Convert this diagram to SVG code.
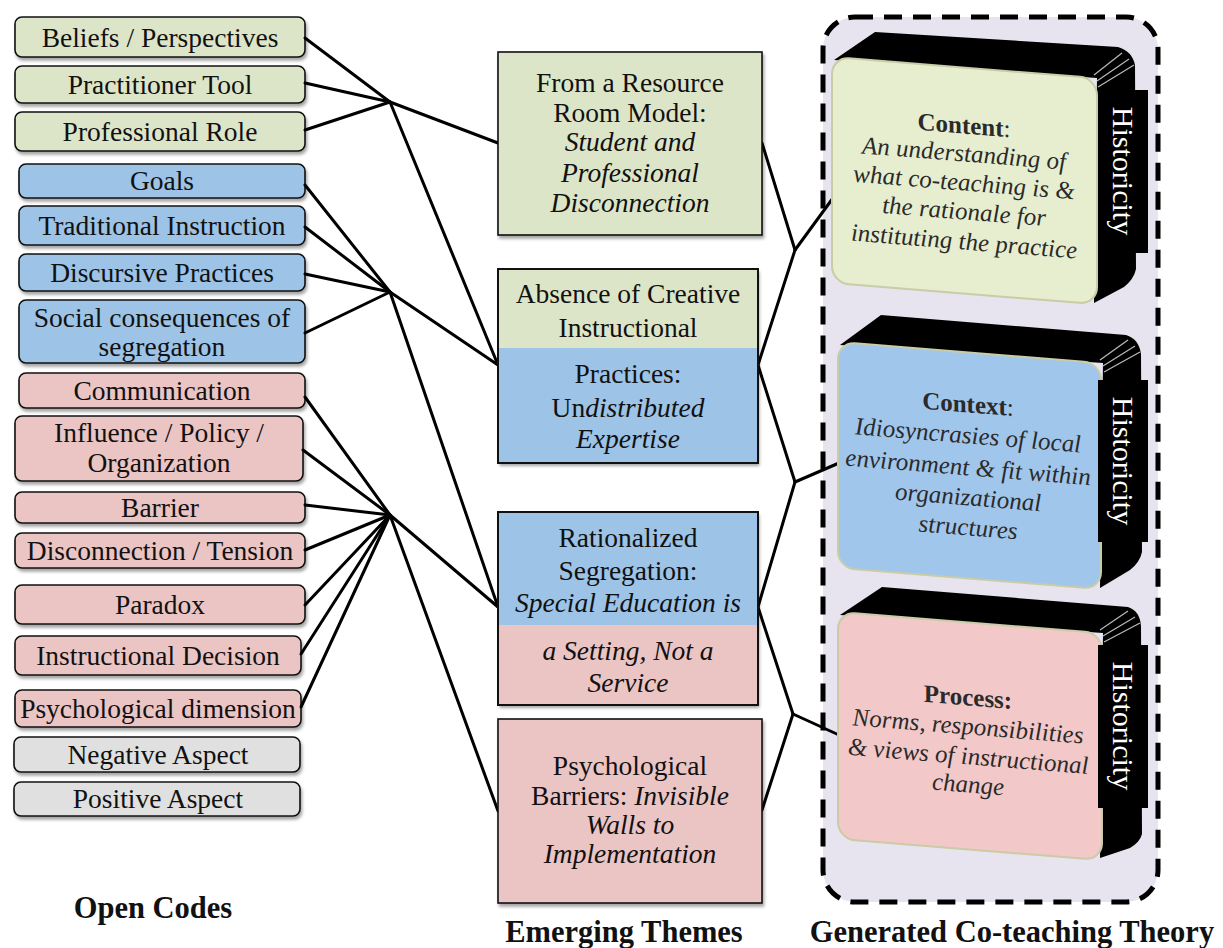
<svg xmlns="http://www.w3.org/2000/svg" width="1223" height="948" viewBox="0 0 1223 948">
<defs>
<filter id="sh" x="-10%" y="-20%" width="130%" height="150%">
<feDropShadow dx="1.5" dy="3" stdDeviation="1.8" flood-color="#000" flood-opacity="0.35"/>
</filter>
</defs>
<style>
text{font-family:"Liberation Serif","Times New Roman",serif;fill:#111}
.code{font-size:27.5px;text-anchor:middle}
.th{font-size:27.5px;text-anchor:middle}
.it{font-style:italic}
.hd{font-size:30.5px;font-weight:bold;text-anchor:middle}
.box{stroke:#111;stroke-width:1.6}
.g{fill:#dde5c8}.b{fill:#9dc3e6}.p{fill:#ebc4c4}.n{fill:#e0e0e0}
.out{fill:none;stroke:#111;stroke-width:2}
.con line{stroke:#000;stroke-width:3;stroke-linecap:round}
.body{fill:#000}
.face{stroke:#c9cca6;stroke-width:2}
.ft{font-size:25px;text-anchor:middle;fill:#2a2a2a}
.hist{fill:#000}
.ht{font-size:30px;fill:#fff;text-anchor:middle}
</style>

<rect x="823" y="17" width="335" height="885" rx="32" fill="#e7e3ef" stroke="#000" stroke-width="5" stroke-dasharray="18 11"/>

<g id="open-codes">
<g id="n-beliefs"><rect class="box g" filter="url(#sh)" x="15" y="17" width="290" height="40" rx="7"/><text class="code" x="160" y="47">Beliefs / Perspectives</text></g>
<g id="n-practitioner"><rect class="box g" filter="url(#sh)" x="15" y="66" width="290" height="37" rx="7"/><text class="code" x="160" y="94">Practitioner Tool</text></g>
<g id="n-role"><rect class="box g" filter="url(#sh)" x="15" y="112" width="290" height="39" rx="7"/><text class="code" x="160" y="141">Professional Role</text></g>
<g id="n-goals"><rect class="box b" filter="url(#sh)" x="19" y="164" width="286" height="34" rx="7"/><text class="code" x="162" y="190">Goals</text></g>
<g id="n-traditional"><rect class="box b" filter="url(#sh)" x="19" y="206" width="286" height="39" rx="7"/><text class="code" x="162" y="235">Traditional Instruction</text></g>
<g id="n-discursive"><rect class="box b" filter="url(#sh)" x="19" y="254" width="286" height="37" rx="7"/><text class="code" x="162" y="282">Discursive Practices</text></g>
<g id="n-social"><rect class="box b" filter="url(#sh)" x="19" y="300" width="286" height="63" rx="7"/><text class="code" x="162" y="327">Social consequences of</text><text class="code" x="162" y="356">segregation</text></g>
<g id="n-communication"><rect class="box p" filter="url(#sh)" x="19" y="373" width="286" height="35" rx="7"/><text class="code" x="162" y="400">Communication</text></g>
<g id="n-influence"><rect class="box p" filter="url(#sh)" x="15" y="416" width="288" height="65" rx="7"/><text class="code" x="159" y="442">Influence / Policy /</text><text class="code" x="159" y="472">Organization</text></g>
<g id="n-barrier"><rect class="box p" filter="url(#sh)" x="15" y="492" width="290" height="31" rx="7"/><text class="code" x="160" y="517">Barrier</text></g>
<g id="n-disconnection"><rect class="box p" filter="url(#sh)" x="15" y="533" width="290" height="35" rx="7"/><text class="code" x="160" y="560">Disconnection / Tension</text></g>
<g id="n-paradox"><rect class="box p" filter="url(#sh)" x="15" y="585" width="290" height="39" rx="7"/><text class="code" x="160" y="614">Paradox</text></g>
<g id="n-decision"><rect class="box p" filter="url(#sh)" x="15" y="636" width="286" height="39" rx="7"/><text class="code" x="158" y="665">Instructional Decision</text></g>
<g id="n-psychological"><rect class="box p" filter="url(#sh)" x="15" y="690" width="286" height="37" rx="7"/><text class="code" x="158" y="718">Psychological dimension</text></g>
<g id="n-negative"><rect class="box n" filter="url(#sh)" x="14" y="737" width="286" height="35" rx="7"/><text class="code" x="158" y="764">Negative Aspect</text></g>
<g id="n-positive"><rect class="box n" filter="url(#sh)" x="14" y="782" width="286" height="34" rx="7"/><text class="code" x="158" y="808">Positive Aspect</text></g>
<text class="hd" x="153" y="918">Open Codes</text>
</g>

<g id="connectors" class="con">
<line x1="305" y1="38" x2="390" y2="102"/>
<line x1="305" y1="83" x2="390" y2="102"/>
<line x1="305" y1="130" x2="390" y2="102"/>
<line x1="390" y1="102" x2="498" y2="143"/>
<line x1="390" y1="102" x2="498" y2="365"/>
<line x1="305" y1="185" x2="390" y2="292"/>
<line x1="305" y1="227" x2="390" y2="292"/>
<line x1="305" y1="274" x2="390" y2="292"/>
<line x1="305" y1="333" x2="390" y2="292"/>
<line x1="390" y1="292" x2="498" y2="365"/>
<line x1="390" y1="292" x2="498" y2="607"/>
<line x1="305" y1="397" x2="390" y2="515"/>
<line x1="303" y1="450" x2="390" y2="515"/>
<line x1="305" y1="505" x2="390" y2="515"/>
<line x1="305" y1="550" x2="390" y2="515"/>
<line x1="305" y1="605" x2="390" y2="515"/>
<line x1="301" y1="654" x2="390" y2="515"/>
<line x1="301" y1="707" x2="390" y2="515"/>
<line x1="390" y1="515" x2="498" y2="607"/>
<line x1="390" y1="515" x2="498" y2="811"/>
<line x1="762" y1="143" x2="795" y2="250"/>
<line x1="795" y1="250" x2="758" y2="365"/>
<line x1="795" y1="250" x2="833" y2="198"/>
<line x1="758" y1="365" x2="795" y2="482"/>
<line x1="795" y1="482" x2="839" y2="463"/>
<line x1="795" y1="482" x2="758" y2="607"/>
<line x1="758" y1="607" x2="793" y2="714"/>
<line x1="793" y1="714" x2="839" y2="735"/>
<line x1="793" y1="714" x2="762" y2="810"/>
</g>

<g id="themes">
<g id="t-resource"><rect class="box g" filter="url(#sh)" x="498" y="52" width="264" height="183"/>
<text class="th" x="630" y="92">From a Resource</text>
<text class="th" x="630" y="122">Room Model:</text>
<text class="th it" x="630" y="151">Student and</text>
<text class="th it" x="630" y="182">Professional</text>
<text class="th it" x="630" y="212">Disconnection</text></g>
<g id="t-absence"><g filter="url(#sh)"><rect class="g" x="498" y="269" width="260" height="79"/><rect class="b" x="498" y="348" width="260" height="115"/></g><rect class="out" x="498" y="269" width="260" height="194"/>
<text class="th" x="628" y="303">Absence of Creative</text>
<text class="th" x="628" y="337">Instructional</text>
<text class="th" x="628" y="383">Practices:</text>
<text class="th" x="628" y="417">Un<tspan class="it">distributed</tspan></text>
<text class="th it" x="628" y="448">Expertise</text></g>
<g id="t-rationalized"><g filter="url(#sh)"><rect class="b" x="498" y="512" width="260" height="113"/><rect class="p" x="498" y="625" width="260" height="80"/></g><rect class="out" x="498" y="512" width="260" height="193"/>
<text class="th" x="628" y="547">Rationalized</text>
<text class="th" x="628" y="580">Segregation:</text>
<text class="th it" x="628" y="612">Special Education is</text>
<text class="th it" x="628" y="660">a Setting, Not a</text>
<text class="th it" x="628" y="692">Service</text></g>
<g id="t-psychological"><rect class="box p" filter="url(#sh)" x="498" y="719" width="264" height="184"/>
<text class="th" x="630" y="775">Psychological</text>
<text class="th" x="630" y="805">Barriers: <tspan class="it">Invisible</tspan></text>
<text class="th it" x="630" y="834">Walls to</text>
<text class="th it" x="630" y="863">Implementation</text></g>
<text class="hd" x="624" y="942">Emerging Themes</text>
</g>

<g id="theory">
<g id="g-content" transform="translate(832,57)">
<path class="body" d="M2,3 L43,-25 L286,-10 Q300,-6 303,8 L304,212 Q302,222 292,230 L262,246 L265,21 Z"/>
<g stroke="#bbb" stroke-width="1.2" fill="none"><path d="M262,18 L290,-4"/><path d="M265,24 L297,2"/><path d="M266,30 L302,8"/></g>
<g transform="matrix(1,0.08,0,1,0,0)">
<rect class="face" x="0" y="0" width="265" height="226" rx="17" fill="#e6eecf"/>
<text class="ft" x="132" y="66" style="font-weight:bold">Content<tspan style="font-weight:normal">:</tspan></text>
<text class="ft it" x="132" y="94">An understanding of</text>
<text class="ft it" x="132" y="123">what co-teaching is &amp;</text>
<text class="ft it" x="132" y="152">the rationale for</text>
<text class="ft it" x="132" y="182">instituting the practice</text>
</g>
</g>
<g id="g-context" transform="translate(838,342)">
<path class="body" d="M2,3 L43,-27 L288,-7 Q301,-3 303,12 L304,210 Q302,220 292,228 L262,246 L265,21 Z"/>
<g stroke="#bbb" stroke-width="1.2" fill="none"><path d="M262,18 L290,-2"/><path d="M265,24 L297,4"/><path d="M266,30 L302,10"/></g>
<g transform="matrix(1,0.08,0,1,0,0)">
<rect class="face" x="0" y="0" width="263" height="226" rx="17" fill="#a0c6ec"/>
<text class="ft" x="130" y="60" style="font-weight:bold">Context<tspan style="font-weight:normal">:</tspan></text>
<text class="ft it" x="130" y="91">Idiosyncrasies of local</text>
<text class="ft it" x="130" y="123">environment &amp; fit within</text>
<text class="ft it" x="130" y="153">organizational</text>
<text class="ft it" x="130" y="183">structures</text>
</g>
</g>
<g id="g-process" transform="translate(838,612)">
<path class="body" d="M2,3 L44,-25 L290,-5 Q302,-1 303,14 L304,222 Q302,230 292,236 L262,246 L265,21 Z"/>
<g stroke="#bbb" stroke-width="1.2" fill="none"><path d="M262,18 L290,-1"/><path d="M265,24 L297,5"/><path d="M266,30 L302,11"/></g>
<g transform="matrix(1,0.08,0,1,0,0)">
<rect class="face" x="0" y="0" width="264" height="227" rx="17" fill="#f2c8c8"/>
<text class="ft" x="130" y="83" style="font-weight:bold">Process:</text>
<text class="ft it" x="130" y="112">Norms, responsibilities</text>
<text class="ft it" x="130" y="142">&amp; views of instructional</text>
<text class="ft it" x="130" y="170">change</text>
</g>
</g>
<g id="h-content"><rect class="hist" x="1098" y="90" width="50" height="163"/><text class="ht" transform="translate(1113,171) rotate(90)">Historicity</text></g>
<g id="h-context"><rect class="hist" x="1098" y="380" width="50" height="162"/><text class="ht" transform="translate(1113,461) rotate(90)">Historicity</text></g>
<g id="h-process"><rect class="hist" x="1098" y="645" width="50" height="163"/><text class="ht" transform="translate(1113,726) rotate(90)">Historicity</text></g>
<text class="hd" x="1012" y="942">Generated Co-teaching Theory</text>
</g>
</svg>
